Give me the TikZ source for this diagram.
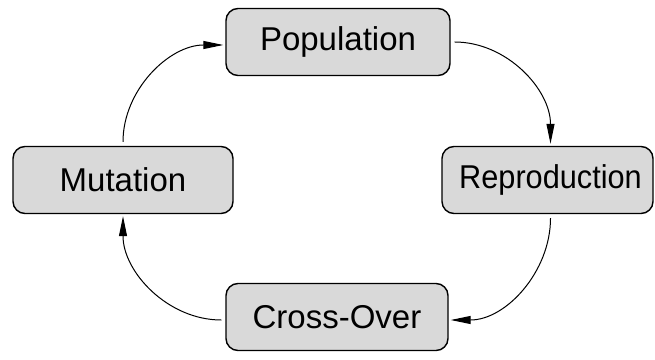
\documentclass[tikz,border=0pt]{standalone}
\usepackage{fontspec}
\setmainfont{Liberation Sans}
\usetikzlibrary{arrows.meta}
\begin{document}
\begin{tikzpicture}[x=1pt,y=1pt,
  stage/.style={draw=black, line width=1.4pt, fill=black!15, rounded corners=12pt,
    minimum height=67pt, inner sep=0pt, font=\fontsize{33}{39}\selectfont},
  flow/.style={line width=1pt, -{Triangle[length=20pt,width=8pt]},
    shorten <=4pt, shorten >=2pt}]
  \useasboundingbox (0,0) rectangle (655,359);
  % the four stages of the cycle
  \node[stage, minimum width=224pt] (pop) at (338,317) {Population};
  \node[stage, minimum width=220pt] (mut) at (123,179) {Mutation};
  \node[stage, minimum width=211pt] (rep) at (547.5,179) {\hspace*{6pt}\scalebox{0.93}[1]{Reproduction}};
  \node[stage, minimum width=222pt] (cro) at (337,42) {Cross-Over};
  % clockwise connectors
  \draw[flow] (pop.east) to[out=0,in=90] ([xshift=3pt]rep.north);
  \draw[flow] ([xshift=3pt]rep.south) to[out=-90,in=0] ([yshift=-3pt]cro.east);
  \draw[flow] ([yshift=-3pt]cro.west) to[out=180,in=-90] (mut.south);
  \draw[flow] (mut.north) to[out=90,in=180] ([yshift=-3pt]pop.west);
\end{tikzpicture}
\end{document}
